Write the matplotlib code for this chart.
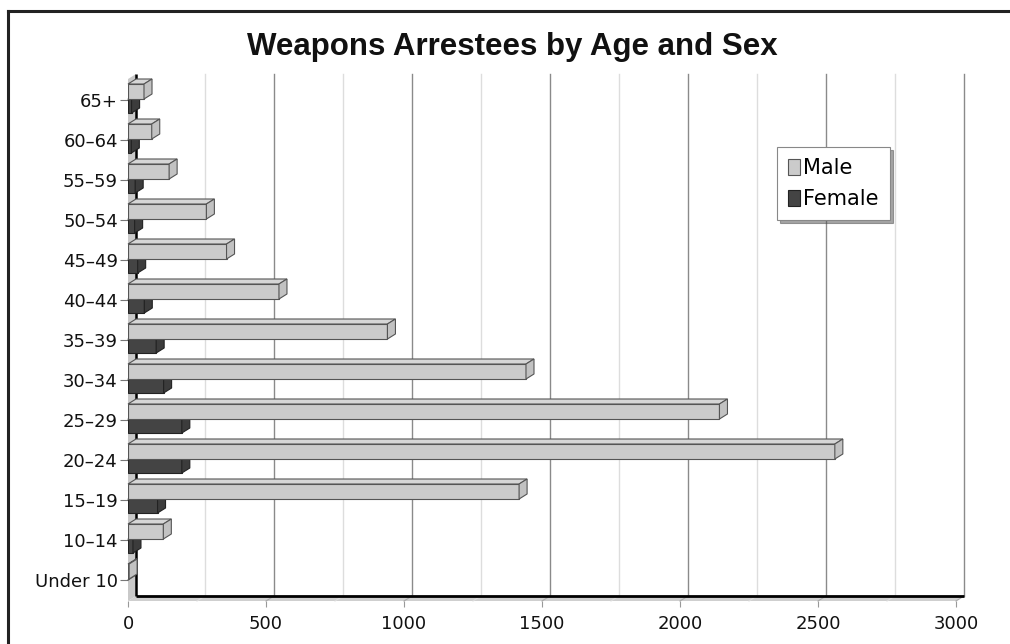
import matplotlib
matplotlib.use("Agg")
import matplotlib.pyplot as plt
from matplotlib.patches import Polygon, Patch
from matplotlib.lines import Line2D

# Weapons arrestees by age group (bottom to top) and sex
age_groups = ["Under 10", "10–14", "15–19", "20–24", "25–29", "30–34", "35–39",
              "40–44", "45–49", "50–54", "55–59", "60–64", "65+"]
male = [4, 128, 1417, 2561, 2143, 1442, 940, 547, 357, 284, 149, 86, 58]
female = [0, 18, 107, 195, 195, 129, 102, 59, 35, 24, 26, 12, 13]
x_ticks = [0, 500, 1000, 1500, 2000, 2500, 3000]
series_names = ["Male", "Female"]

W, H = 1010, 644
fig = plt.figure(figsize=(W / 100, H / 100), dpi=100)
fig.patch.set_facecolor("white")

# front plane of the pseudo-3D plot, in pixels
left_px, right_px, top_px, bottom_px = 128, 956, 79, 601
ax = fig.add_axes([left_px / W, 1 - bottom_px / H,
                   (right_px - left_px) / W, (bottom_px - top_px) / H])
XMAX = 3000
Y0, Y1 = -0.525, 12.525
ax.set_xlim(0, XMAX)
ax.set_ylim(Y0, Y1)
for s in ax.spines.values():
    s.set_visible(False)
ax.set_facecolor("none")

# depth of the 3D effect, in data units (8 px right, 5 px up)
dx = 8 * XMAX / (right_px - left_px)
dy = 5 * (Y1 - Y0) / (bottom_px - top_px)

# side wall and floor
ax.add_patch(Polygon([(0, Y0), (dx, Y0 + dy), (dx, Y1 + dy), (0, Y1)],
                     closed=True, facecolor="#c9c9c9", edgecolor="none",
                     zorder=1, clip_on=False))
ax.add_patch(Polygon([(0, Y0), (XMAX, Y0), (XMAX + dx, Y0 + dy), (dx, Y0 + dy)],
                     closed=True, facecolor="#cfcfcf", edgecolor="none",
                     zorder=1, clip_on=False))

# back-wall gridlines
for v in range(250, XMAX + 1, 250):
    major = v % 500 == 0
    ax.plot([v + dx, v + dx], [Y0 + dy, Y1 + dy],
            color="#8a8a8a" if major else "#dddddd",
            lw=1.0, zorder=1.5, clip_on=False)
    # floor ticks
    ax.plot([v, v + dx], [Y0, Y0 + dy], color="#aaaaaa" if major else "#dddddd",
            lw=0.8, zorder=1.6, clip_on=False)

# side-wall ticks
for i in range(len(age_groups)):
    ax.plot([0, dx], [i, i + dy], color="#555555", lw=0.8, zorder=1.6, clip_on=False)

# back-wall axis lines
ax.plot([dx, dx], [Y0 + dy, Y1 + dy], color="black", lw=1.8, zorder=2,
        clip_on=False, solid_capstyle="butt")
ax.plot([dx, XMAX + dx], [Y0 + dy, Y0 + dy], color="black", lw=2.0, zorder=2,
        clip_on=False, solid_capstyle="butt")


def bar3d(y_bottom, height, value, front, top, side, edge, z):
    if value <= 0:
        return
    ax.barh(y_bottom, value, height=height, align="edge", left=0,
            color=front, edgecolor=edge, linewidth=0.8, zorder=z)
    y_top = y_bottom + height
    ax.add_patch(Polygon([(0, y_top), (value, y_top), (value + dx, y_top + dy),
                          (dx, y_top + dy)], closed=True, facecolor=top,
                         edgecolor=edge, linewidth=0.8, zorder=z, clip_on=False))
    ax.add_patch(Polygon([(value, y_bottom), (value + dx, y_bottom + dy),
                          (value + dx, y_top + dy), (value, y_top)], closed=True,
                         facecolor=side, edgecolor=edge, linewidth=0.8,
                         zorder=z, clip_on=False))


male_h, female_h = 0.375, 0.35
for i in range(len(age_groups)):
    bar3d(i + 0.025 - female_h, female_h, female[i],
          "#444444", "#565656", "#3c3c3c", "#222222", 3)
    bar3d(i + 0.025, male_h, male[i],
          "#cbcbcb", "#d6d6d6", "#c2c2c2", "#555555", 4)

ax.set_yticks(range(len(age_groups)))
ax.set_yticklabels(age_groups)
ax.set_xticks(x_ticks)
ax.set_xticklabels([str(v) for v in x_ticks])
ax.tick_params(axis="y", direction="out", length=5.8, width=0.8,
               color="#777777", pad=1.5, labelsize=13, labelcolor="#111111")
ax.tick_params(axis="x", direction="out", length=4, width=0.8,
               color="#999999", pad=6, labelsize=13, labelcolor="#111111")

# legend
handles = [Patch(facecolor="#cbcbcb", edgecolor="#555555", linewidth=0.8),
           Patch(facecolor="#444444", edgecolor="#222222", linewidth=0.8)]
leg = ax.legend(handles, series_names, loc="upper left",
                bbox_to_anchor=(777 / W, 1 - 147 / H),
                bbox_transform=fig.transFigure, borderaxespad=0,
                fontsize=15, frameon=True, fancybox=False, shadow=True,
                edgecolor="#888888", framealpha=1, handlelength=0.55,
                handleheight=0.8, handletextpad=0.15, labelspacing=0.5,
                borderpad=0.55)
leg.get_frame().set_linewidth(0.8)
leg.set_zorder(10)

# title
fig.text(512 / W, 1 - 47 / H, "Weapons Arrestees by Age and Sex",
         ha="center", va="center", fontsize=22.5, fontweight="bold",
         family="Liberation Sans", color="#111111")

# outer frame (top and left edges)
fig.add_artist(Line2D([7.5 / W, 1], [1 - 11 / H, 1 - 11 / H],
                      transform=fig.transFigure, color="#222222", lw=2.2))
fig.add_artist(Line2D([7.5 / W, 7.5 / W], [1 - 11 / H, 0],
                      transform=fig.transFigure, color="#222222", lw=2.2))

fig.savefig("out.png", dpi=100)
